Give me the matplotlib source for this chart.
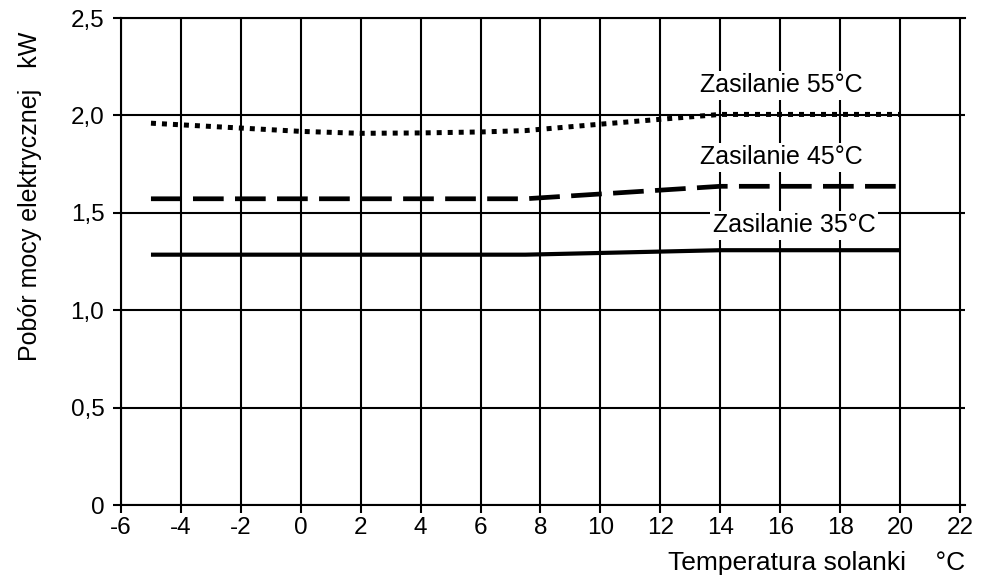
import matplotlib
matplotlib.use("Agg")
import matplotlib.pyplot as plt
from matplotlib.ticker import FuncFormatter

plt.rcParams['font.family'] = ['Liberation Sans', 'DejaVu Sans']

# Data
x_35 = [-5, 7.5, 14, 20]
y_35 = [1.285, 1.285, 1.308, 1.308]

x_45 = [-5, 7.5, 14, 20]
y_45 = [1.572, 1.572, 1.636, 1.636]

x_55 = [-5, -2, 0, 2, 4, 6, 7.5, 10, 12, 14, 20]
y_55 = [1.96, 1.935, 1.918, 1.908, 1.910, 1.915, 1.922, 1.955, 1.98, 2.005, 2.005]

labels = ["Zasilanie 35°C", "Zasilanie 45°C", "Zasilanie 55°C"]
x_ticks = list(range(-6, 23, 2))
y_ticks = [0, 0.5, 1.0, 1.5, 2.0, 2.5]

fig = plt.figure(figsize=(9.9, 5.8), dpi=100)
ax = fig.add_axes([121/990, 1-505/580, (965-121)/990, (505-18)/580])

ax.set_xlim(-6, 22.17)
ax.set_ylim(0, 2.5)
ax.set_xticks(x_ticks)
ax.set_yticks(y_ticks)
ax.xaxis.set_major_formatter(FuncFormatter(lambda v, p: f"{int(v)}"))
ax.yaxis.set_major_formatter(FuncFormatter(lambda v, p: "0" if v == 0 else f"{v:.1f}".replace(".", ",")))
ax.grid(True, color='black', linewidth=1.5)
ax.set_axisbelow(True)
for s in ['left', 'bottom', 'top']:
    ax.spines[s].set_linewidth(1.5)
ax.spines['right'].set_visible(False)
ax.tick_params(direction='out', length=6, width=1.5, labelsize=17.5)
ax.tick_params(axis='y', pad=6)
ax.tick_params(axis='x', pad=3)

ax.plot(x_35, y_35, color='black', linewidth=3.0, solid_capstyle='butt')
ax.plot(x_45, y_45, color='black', linewidth=3.4, linestyle=(0, (6.5, 2.4)), dash_capstyle='butt')
ax.plot(x_55, y_55, color='black', linewidth=3.6, linestyle=(0, (1.0, 1.2)), dash_capstyle='butt')

box = dict(facecolor='white', edgecolor='none', pad=2)
ax.text(16.03, 2.154, labels[2], ha='center', va='center', fontsize=18, bbox=box)
ax.text(16.03, 1.785, labels[1], ha='center', va='center', fontsize=18, bbox=box)
ax.text(16.47, 1.436, labels[0], ha='center', va='center', fontsize=18, bbox=box)

fig.text(30/990, 1-196/580, "Pobór mocy elektrycznej   kW", rotation=90, ha='center', va='center', fontsize=18)
fig.text(965/990, 1-563/580, "Temperatura solanki    °C", ha='right', va='center', fontsize=19)

fig.savefig("out.png", dpi=100, facecolor='white')
